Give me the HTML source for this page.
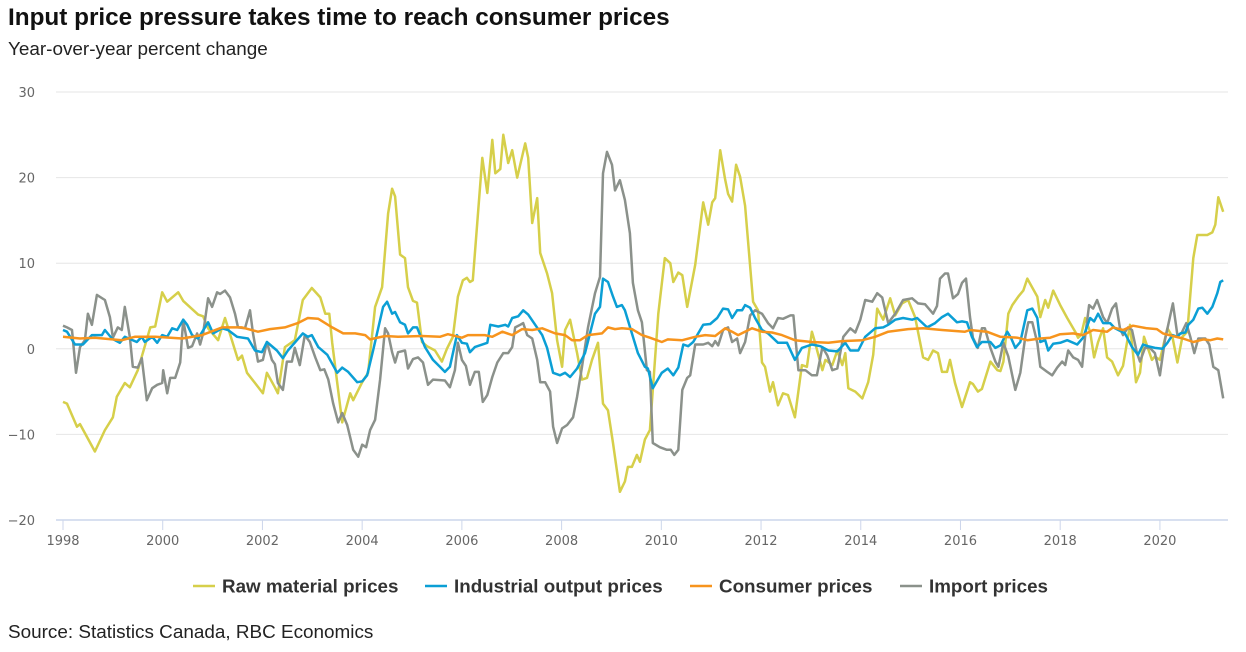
<!DOCTYPE html>
<html><head><meta charset="utf-8">
<style>
body{margin:0;background:#fff;width:1246px;height:652px;overflow:hidden;font-family:"Liberation Sans",Arial,sans-serif;}
#title{position:absolute;left:8px;top:4px;font-size:24.3px;font-weight:bold;color:#111;white-space:nowrap;}
#subtitle{position:absolute;left:8px;top:39px;font-size:18.9px;color:#222;white-space:nowrap;}
#source{position:absolute;left:8px;top:622px;font-size:18.9px;color:#222;white-space:nowrap;}
svg{position:absolute;left:0;top:0;}
</style></head>
<body>
<div id="title">Input price pressure takes time to reach consumer prices</div>
<div id="subtitle">Year-over-year percent change</div>
<svg id="chart" width="1246" height="652"></svg>
<div id="source">Source: Statistics Canada, RBC Economics</div>
<script>
const yTicks=[30,20,10,0,-10,-20];
const xTicks=[1998,2000,2002,2004,2006,2008,2010,2012,2014,2016,2018,2020];
const rawT=[1998.0,1998.08,1998.28,1998.34,1998.64,1998.84,1999.0,1999.08,1999.24,1999.34,1999.5,1999.75,1999.85,1999.99,2000.09,2000.31,2000.41,2000.71,2000.81,2000.91,2001.11,2001.25,2001.51,2001.59,2001.69,2001.85,2002.01,2002.09,2002.25,2002.31,2002.45,2002.65,2002.81,2002.99,2003.16,2003.26,2003.34,2003.4,2003.6,2003.76,2003.82,2004.0,2004.12,2004.26,2004.4,2004.52,2004.6,2004.66,2004.76,2004.86,2004.92,2005.02,2005.1,2005.2,2005.3,2005.46,2005.6,2005.7,2005.82,2005.92,2006.02,2006.1,2006.16,2006.22,2006.41,2006.51,2006.61,2006.67,2006.77,2006.83,2006.93,2007.01,2007.11,2007.27,2007.33,2007.41,2007.51,2007.57,2007.71,2007.81,2007.91,2008.01,2008.07,2008.17,2008.31,2008.41,2008.51,2008.61,2008.73,2008.83,2008.93,2009.03,2009.17,2009.27,2009.33,2009.41,2009.51,2009.57,2009.67,2009.77,2009.94,2010.07,2010.18,2010.24,2010.34,2010.42,2010.52,2010.68,2010.84,2010.94,2011.02,2011.08,2011.18,2011.28,2011.34,2011.42,2011.5,2011.58,2011.68,2011.84,2011.94,2012.02,2012.08,2012.18,2012.24,2012.34,2012.44,2012.54,2012.68,2012.82,2012.92,2013.02,2013.08,2013.23,2013.29,2013.43,2013.53,2013.63,2013.69,2013.75,2013.89,2014.03,2014.15,2014.25,2014.33,2014.45,2014.59,2014.69,2014.83,2014.95,2015.09,2015.25,2015.35,2015.45,2015.55,2015.63,2015.73,2015.79,2015.89,2016.03,2016.19,2016.25,2016.35,2016.43,2016.6,2016.74,2016.8,2016.86,2016.96,2017.04,2017.16,2017.26,2017.34,2017.54,2017.6,2017.7,2017.76,2017.86,2018.0,2018.14,2018.3,2018.36,2018.42,2018.5,2018.6,2018.68,2018.76,2018.86,2018.94,2019.04,2019.16,2019.26,2019.4,2019.52,2019.6,2019.68,2019.84,2019.9,2020.0,2020.15,2020.25,2020.35,2020.45,2020.55,2020.67,2020.75,2020.95,2021.05,2021.11,2021.17,2021.27];
const rawV=[-6.2,-6.4,-9.1,-8.8,-12,-9.5,-8,-5.6,-4,-4.5,-2.5,2.5,2.6,6.6,5.5,6.6,5.6,4,3.8,2.4,1,3.6,-1.3,-0.8,-2.8,-4,-5.2,-2.8,-4.5,-5.2,0.2,1,5.7,7.1,6,4.1,4.1,0.7,-8.6,-5.2,-6,-3.9,-2.8,4.9,7.2,15.8,18.7,17.8,11,10.6,7.2,5.6,5.4,0.8,0.3,-0.2,-1.5,0,1.4,6.1,8,8.3,7.8,8,22.3,18.2,24.4,20.5,21,25,21.7,23.2,20,24,22.3,14.7,17.6,11.2,8.8,6.5,1,-2.1,2.2,3.4,-0.5,-3.6,-3.4,-1.3,0.7,-6.4,-7.2,-11,-16.7,-15.5,-13.8,-13.8,-12.4,-13.2,-10.6,-9.5,4.1,10.6,10,7.8,8.9,8.6,4.9,9.8,17.1,14.5,17.1,17.6,23.2,19.8,18.1,17.2,21.5,20.1,16.7,5.5,4.5,-1.6,-2.1,-5,-3.9,-6.6,-5.2,-5.4,-8,-1.9,-2.1,2,0.8,-2.5,-1.3,-1.9,-0.2,-1.9,-0.5,-4.6,-5,-5.8,-3.9,-0.7,4.7,3.4,5.9,3.9,5.3,5.7,3.7,-1,-1.3,-0.2,-0.5,-2.7,-2.7,-1.3,-4,-6.8,-3.9,-4.1,-5,-4.7,-1.5,-2.5,-2.6,-1.5,4.1,5.1,6.1,6.8,8.2,6.1,3.7,5.7,4.8,6.8,5.1,3.6,2,1.3,1.6,3.6,2,-1,0.8,2.4,-1,-1.5,-3.1,-2,2.8,-3.9,-2.8,1.4,-1.3,-0.9,-1.3,2.4,1.4,-1.6,1.4,2,10.6,13.3,13.3,13.6,14.5,17.7,16];
const indT=[1998.0,1998.08,1998.24,1998.4,1998.58,1998.78,1998.84,1998.98,1999.14,1999.24,1999.48,1999.58,1999.64,1999.79,1999.89,1999.99,2000.09,2000.19,2000.29,2000.41,2000.49,2000.59,2000.71,2000.91,2001.01,2001.19,2001.31,2001.49,2001.71,2001.85,2001.99,2002.09,2002.29,2002.41,2002.51,2002.81,2002.91,2002.99,2003.12,2003.3,2003.5,2003.6,2003.72,2003.9,2004.0,2004.1,2004.22,2004.42,2004.5,2004.6,2004.66,2004.76,2004.86,2004.92,2005.02,2005.1,2005.26,2005.42,2005.56,2005.66,2005.76,2005.9,2006.0,2006.1,2006.16,2006.26,2006.51,2006.57,2006.73,2006.87,2006.93,2007.01,2007.13,2007.23,2007.33,2007.47,2007.61,2007.71,2007.83,2007.97,2008.07,2008.17,2008.31,2008.47,2008.67,2008.77,2008.83,2008.93,2009.03,2009.11,2009.21,2009.27,2009.41,2009.53,2009.67,2009.73,2009.83,2010.01,2010.13,2010.24,2010.34,2010.44,2010.54,2010.64,2010.84,2010.98,2011.12,2011.24,2011.34,2011.42,2011.52,2011.62,2011.68,2011.78,2011.88,2012.02,2012.14,2012.34,2012.52,2012.68,2012.82,2013.02,2013.19,2013.35,2013.53,2013.69,2013.79,2013.95,2014.09,2014.29,2014.45,2014.55,2014.69,2014.85,2015.03,2015.13,2015.33,2015.49,2015.63,2015.75,2015.93,2016.03,2016.13,2016.23,2016.33,2016.43,2016.6,2016.7,2016.8,2016.94,2017.02,2017.1,2017.2,2017.34,2017.44,2017.54,2017.6,2017.7,2017.76,2017.86,2018.0,2018.14,2018.34,2018.46,2018.6,2018.68,2018.76,2018.86,2019.0,2019.1,2019.3,2019.44,2019.56,2019.66,2019.76,2019.9,2020.05,2020.15,2020.25,2020.35,2020.41,2020.51,2020.57,2020.67,2020.77,2020.85,2020.95,2021.05,2021.15,2021.21,2021.27];
const indV=[2.2,2,0.5,0.5,1.6,1.6,2.2,1.2,0.7,1.4,0.8,1.4,0.8,1.4,0.7,1.6,1.4,2.4,2.2,3.4,2.8,1.6,1.2,3.1,1.8,2.4,2.2,1.4,1.2,-0.2,-0.4,0.8,-0.2,-1.1,-0.2,1.8,1.4,1.6,0.2,-0.7,-2.8,-2.2,-2.7,-3.9,-3.8,-3.1,-0.2,4.9,5.5,4.1,4.3,3.1,2.8,1.8,2.5,2.5,0.2,-1.3,-2.1,-2.7,-2.1,1.6,0.7,0.6,-0.4,0.2,0.7,2.8,2.6,2.8,2.6,3.6,3.8,4.5,4,2.8,1.6,0.1,-2.8,-3.1,-2.8,-3.3,-2.3,-0.5,4.1,4.9,8.2,7.8,6.1,4.9,5.1,4.5,1.8,-0.5,-2.1,-2.3,-4.6,-2.8,-2.3,-3.1,-2.2,0.5,0.3,0.8,2.8,2.9,3.6,4.7,4.6,3.6,4.5,4.5,5.1,4.8,3.6,2.2,1.8,0.7,0.7,-1.3,0.1,0.5,0.3,-0.2,-0.3,0.7,-0.2,-0.2,1.4,2.4,2.5,2.8,3.4,3.6,3.4,3.6,2.5,3,3.7,4.1,3.1,3.2,3.1,1.4,0.2,0.8,0.8,0.1,0.4,2,1.2,0.1,0.8,4.5,4.7,3.6,0.8,1,-0.2,0.6,0.7,1,0.5,1.3,3.6,3.2,4.1,3,3,2.4,1.8,0.2,-0.7,0.5,0.3,0.1,0,0.7,1.6,1.4,1.8,1.9,2.8,3.4,4.7,4.8,4.1,4.9,6.5,7.8,8];
const conT=[1998.0,1998.34,1998.64,1999.18,1999.44,1999.85,2000.39,2000.79,2001.19,2001.59,2001.91,2002.15,2002.45,2002.71,2002.91,2003.12,2003.4,2003.62,2003.86,2004.06,2004.16,2004.46,2004.72,2005.2,2005.56,2005.72,2006.0,2006.12,2006.46,2006.61,2006.81,2007.01,2007.21,2007.41,2007.61,2007.87,2008.07,2008.21,2008.37,2008.53,2008.81,2008.93,2009.07,2009.21,2009.41,2009.61,2009.77,2010.01,2010.13,2010.42,2010.68,2010.88,2011.08,2011.28,2011.42,2011.54,2011.82,2012.02,2012.22,2012.42,2012.68,2013.02,2013.35,2013.63,2014.03,2014.29,2014.55,2014.95,2015.25,2015.63,2016.09,2016.19,2016.53,2016.8,2017.14,2017.34,2017.6,2017.8,2018.0,2018.26,2018.46,2018.66,2018.94,2019.06,2019.26,2019.46,2019.74,2019.94,2020.06,2020.26,2020.46,2020.67,2020.87,2021.01,2021.15,2021.27];
const conV=[1.4,1.2,1.3,1,1.4,1.4,1.2,1.6,2.5,2.5,2,2.3,2.5,3,3.6,3.5,2.5,1.8,1.8,1.6,1.1,1.5,1.4,1.5,1.4,1.7,1.3,1.6,1.6,1.4,2,1.6,2.3,2.2,2.4,1.8,1.6,1,1,1.6,1.8,2.5,2.3,2.4,2.3,1.6,1.3,0.8,1.1,1,1.4,1.6,1.5,2.4,2,1.6,2.4,2,1.9,1.6,1,0.8,0.7,0.9,1,1.4,2,2.3,2.4,2.2,2,2.2,2,1.4,1.3,1,1.2,1.3,1.7,1.8,1.6,2.2,2,2.5,2.2,2.7,2.4,2.3,1.8,1.5,1.2,0.8,1.1,1,1.2,1.1];
const impT=[1998.0,1998.08,1998.18,1998.26,1998.34,1998.44,1998.5,1998.58,1998.68,1998.84,1998.94,1999.0,1999.1,1999.18,1999.24,1999.34,1999.4,1999.5,1999.58,1999.68,1999.79,1999.89,1999.99,2000.01,2000.09,2000.15,2000.25,2000.35,2000.41,2000.51,2000.59,2000.69,2000.75,2000.81,2000.91,2000.99,2001.09,2001.15,2001.25,2001.35,2001.45,2001.51,2001.65,2001.75,2001.81,2001.91,2002.01,2002.09,2002.19,2002.25,2002.31,2002.41,2002.49,2002.59,2002.65,2002.75,2002.85,2002.95,2003.06,2003.16,2003.24,2003.32,2003.42,2003.52,2003.6,2003.7,2003.82,2003.92,2004.0,2004.08,2004.16,2004.26,2004.36,2004.46,2004.52,2004.6,2004.66,2004.72,2004.86,2004.92,2005.02,2005.12,2005.22,2005.32,2005.42,2005.66,2005.76,2005.86,2005.92,2006.0,2006.08,2006.16,2006.26,2006.34,2006.42,2006.51,2006.61,2006.71,2006.83,2006.93,2007.01,2007.07,2007.17,2007.23,2007.31,2007.41,2007.51,2007.57,2007.67,2007.77,2007.83,2007.91,2008.01,2008.11,2008.23,2008.31,2008.41,2008.53,2008.67,2008.77,2008.83,2008.91,2009.01,2009.07,2009.17,2009.27,2009.37,2009.43,2009.53,2009.61,2009.71,2009.77,2009.83,2009.97,2010.11,2010.19,2010.26,2010.34,2010.42,2010.52,2010.58,2010.68,2010.84,2010.94,2011.02,2011.08,2011.14,2011.24,2011.34,2011.42,2011.52,2011.58,2011.68,2011.78,2011.88,2012.02,2012.14,2012.24,2012.34,2012.44,2012.59,2012.65,2012.75,2012.89,2013.02,2013.12,2013.23,2013.33,2013.43,2013.53,2013.65,2013.79,2013.89,2013.99,2014.09,2014.23,2014.33,2014.43,2014.55,2014.69,2014.85,2015.03,2015.15,2015.29,2015.45,2015.53,2015.59,2015.69,2015.75,2015.85,2015.95,2016.03,2016.11,2016.19,2016.25,2016.35,2016.43,2016.49,2016.6,2016.7,2016.76,2016.86,2016.96,2017.1,2017.2,2017.3,2017.36,2017.44,2017.54,2017.6,2017.74,2017.84,2017.94,2018.04,2018.1,2018.16,2018.26,2018.36,2018.44,2018.5,2018.58,2018.66,2018.74,2018.86,2018.94,2019.04,2019.12,2019.2,2019.26,2019.36,2019.44,2019.54,2019.6,2019.7,2019.8,2019.9,2020.0,2020.1,2020.26,2020.35,2020.43,2020.53,2020.61,2020.69,2020.77,2020.91,2020.99,2021.07,2021.17,2021.27];
const impV=[2.7,2.5,2.2,-2.8,0.2,1,4.1,2.8,6.3,5.7,3.7,1.3,2.5,2.2,4.9,1.4,-2.1,-2.2,-1.1,-6,-4.6,-4.2,-4,-2.5,-5.2,-3.4,-3.4,-1.6,3.4,0.1,0.3,1.8,0.5,1.8,5.9,4.9,6.6,6.4,6.8,6,4.1,2.5,2.4,4.5,1.8,-1.5,-1.3,0.8,-1.3,-1.8,-4,-4.8,-1.5,-1.5,0.1,-1.9,1.6,0.8,-1,-2.5,-2.4,-3.6,-6.4,-8.6,-7.5,-8.9,-11.8,-12.6,-11.2,-11.5,-9.5,-8.3,-3.6,2.4,1.8,-0.4,-1.6,-0.4,-0.2,-2.3,-1.2,-1,-1.6,-4.2,-3.6,-3.7,-4.5,-2.5,0.7,-1.3,-2,-4.2,-2.7,-2.7,-6.2,-5.4,-3.3,-1.6,-0.5,-0.5,0.2,2.5,2.8,3,1.6,1.2,-1.3,-3.9,-3.9,-5,-9.1,-11,-9.3,-8.9,-8,-5.6,-2.1,2.5,6.5,8.4,20.5,23,21.5,18.5,19.7,17.4,13.5,7.7,4.5,3.1,-2.5,-2.7,-11,-11.5,-11.8,-11.8,-12.4,-11.8,-4.8,-3.4,-3.1,0.5,0.5,0.7,0.3,0.9,0.4,2.2,2.5,0.8,1.2,-0.5,0.8,3.9,4.5,4.1,3,2.4,3.6,3.5,3.9,3.9,-2.5,-2.5,-3.1,-3.1,0.2,-0.8,-2.5,-2.3,1.4,2.4,1.9,3.4,5.7,5.5,6.5,6,3,4.1,5.7,5.9,5.3,5.2,4.1,5,8.2,8.8,8.8,5.9,6.4,7.7,8.2,3.7,1.3,0.1,2.4,2.4,0.1,-1.5,-2.1,0.7,-0.9,-4.8,-2.8,1.4,3.1,3.1,0.7,-2.1,-2.7,-3.1,-2.2,-1.5,-1.9,-0.2,-1,-1.3,-2.1,1.4,5.1,4.7,5.7,3.7,3,4.7,5.3,2.4,1.6,2.5,2.2,-0.5,-1.5,0.1,0.1,-0.5,-3.1,1,5.3,1.6,1.8,3,1.4,-0.5,1.2,1.2,0.5,-2.1,-2.5,-5.8];

const NS='http://www.w3.org/2000/svg';
const svg=document.getElementById('chart');
const X0=63,XW=49.86,Y0=348.8,YK=8.56;
const TICKFONT='DejaVu Sans, sans-serif';
function xs(t){return X0+(t-1998)*XW;}
function ys(v){return Y0-v*YK;}
function mk(tag,attrs,parent){const e=document.createElementNS(NS,tag);for(const k in attrs)e.setAttribute(k,attrs[k]);(parent||svg).appendChild(e);return e;}

yTicks.forEach(v=>{
  const g=mk('line',{x1:56,x2:1228,y1:ys(v),y2:ys(v),stroke:v===-20?'#ccd6eb':'#e6e6e6','stroke-width':v===-20?1.5:1});
  
  
  const t=mk('text',{x:35,y:ys(v)+5,'text-anchor':'end','font-size':13,fill:'#666','font-family':TICKFONT});
  t.textContent=v<0?'\u2212'+(-v):String(v);
  
  
});
xTicks.forEach(yr=>{
  const l=mk('line',{x1:xs(yr),x2:xs(yr),y1:520,y2:530,stroke:'#ccd6eb','stroke-width':1});
  
  
  const t=mk('text',{x:xs(yr),y:545,'text-anchor':'middle','font-size':13,fill:'#666','font-family':TICKFONT});
  t.textContent=yr;
  
  
});
function series(T,V,color,name){
  const d=T.map((t,i)=>(i?'L':'M')+xs(t).toFixed(1)+' '+ys(V[i]).toFixed(1)).join(' ');
  const p=mk('path',{d:d,fill:'none',stroke:color,'stroke-width':2.5,'stroke-linejoin':'round'});
  
  
}
series(rawT,rawV,'#d6cf4a','raw-material-line');
series(impT,impV,'#8b918b','import-prices-line');
series(indT,indV,'#0b9fd5','industrial-output-line');
series(conT,conV,'#f7941d','consumer-prices-line');

const legend=[['Raw material prices','#d6cf4a',193],['Industrial output prices','#0b9fd5',425],['Consumer prices','#f7941d',690],['Import prices','#8b918b',900]];
legend.forEach(([lab,c,x])=>{
  const g=mk('g',{});
  
  
  mk('line',{x1:x,x2:x+22,y1:586,y2:586,stroke:c,'stroke-width':2.5},g);
  const t=mk('text',{x:x+29,y:592.5,'font-size':18.8,'font-weight':'bold',fill:'#333','font-family':'Liberation Sans, sans-serif'},g);
  t.textContent=lab;
});
</script>
</body></html>
